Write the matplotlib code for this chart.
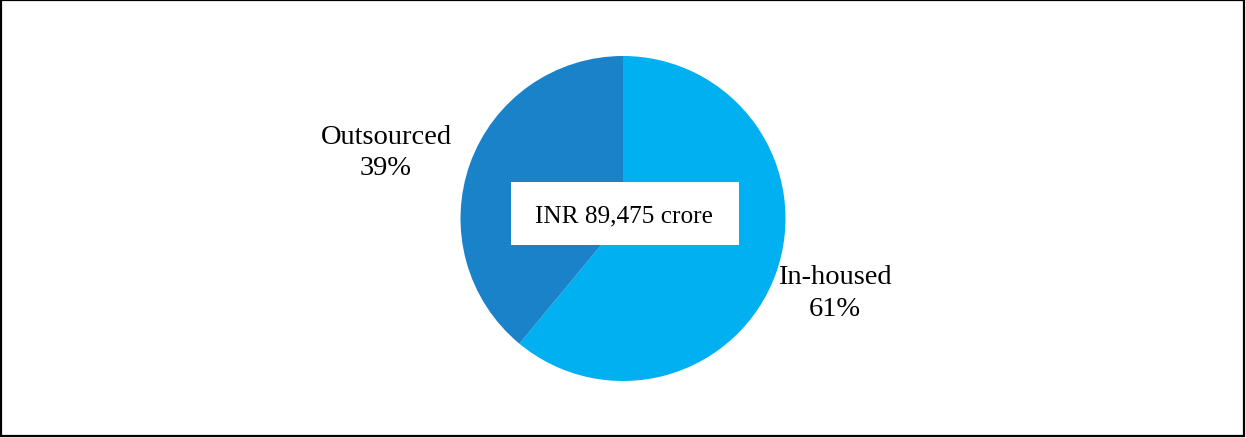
import matplotlib.pyplot as plt
from matplotlib.patches import Rectangle

labels = ['In-housed', 'Outsourced']
shares = [61, 39]
colors = ['#00B0F0', '#1982C8']
total_label = 'INR 89,475 crore'

plt.rcParams['font.family'] = ['Liberation Serif', 'DejaVu Serif']

fig = plt.figure(figsize=(12.46, 4.39), dpi=100)
ax = fig.add_axes([(623 - 162.5) / 1246, (439 - 219.5 - 162.5) / 439,
                   325 / 1246, 325 / 439])
ax.pie(shares, colors=colors, startangle=90, counterclock=False,
       wedgeprops=dict(linewidth=0))
ax.set_xlim(-1, 1)
ax.set_ylim(-1, 1)
ax.set_aspect('equal')
ax.axis('off')

# category labels outside the pie
fig.text(386 / 1246, 1 - 153 / 439, f'{labels[1]}\n{shares[1]}%',
         ha='center', va='center', fontsize=20.5, linespacing=1.32)
fig.text(835 / 1246, 1 - 293.5 / 439, f'{labels[0]}\n{shares[0]}%',
         ha='center', va='center', fontsize=20.5, linespacing=1.32)

# total in a white box over the pie
fig.patches.append(Rectangle((511 / 1246, 1 - 246 / 439), 228 / 1246, 63 / 439,
                             transform=fig.transFigure, facecolor='white',
                             edgecolor='none', zorder=5))
fig.text(624 / 1246, 1 - 216 / 439, total_label, ha='center', va='center',
         fontsize=18.2, zorder=6)

# outer frame
fig.patches.append(Rectangle((1 / 1246, 2 / 439), 1243 / 1246, 436 / 439,
                             transform=fig.transFigure, facecolor='none',
                             edgecolor='black', linewidth=1.6, zorder=10))

fig.savefig('out.png', dpi=100)
